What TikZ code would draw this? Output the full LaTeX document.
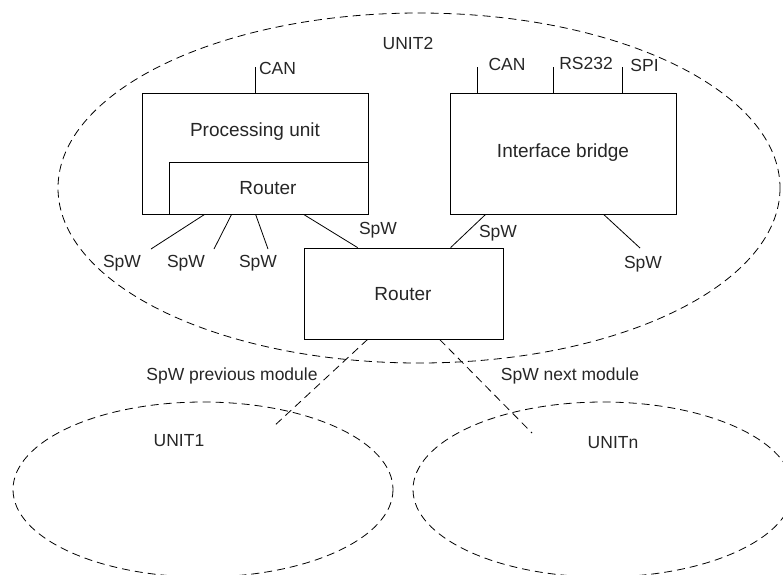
\documentclass[tikz,border=0pt]{standalone}
\usepackage{fontspec}
\setmainfont{Liberation Sans}
\usetikzlibrary{calc}
\begin{document}
\begin{tikzpicture}[x=1pt,y=-1pt,
  boxnode/.style={draw,line width=0.8pt,rectangle,inner sep=0pt},
  boxtext/.style={font=\fontsize{19}{22}\selectfont,text=black!85,inner sep=0pt},
  lbl/.style={font=\fontsize{17.5}{20}\selectfont,text=black!85,inner sep=0pt},
  wire/.style={line width=0.8pt},
  dwire/.style={line width=0.8pt,dash pattern=on 8pt off 5pt},
  unitline/.style={line width=0.8pt,dash pattern=on 8pt off 5pt}]
\useasboundingbox (0,0) rectangle (783,574);
\clip (0,0) rectangle (783,574);
% unit ellipses
\draw[unitline] (419,188) ellipse [x radius=361, y radius=175];
\draw[unitline] (203,489.5) ellipse [x radius=190, y radius=87.5];
\draw[unitline] (603,489.5) ellipse [x radius=190, y radius=87.5];
\node[lbl] (u2) at (408,43) {UNIT2};
\node[lbl] (u1) at (179,441) {UNIT1};
\node[lbl] (un) at (613,443) {UNITn};
% boxes
\node[boxnode,minimum width=226pt,minimum height=121pt] (pu) at (255,153.5) {};
\node[boxtext] (putext) at (255,132) {Processing unit};
\node[boxnode,minimum width=199pt,minimum height=52pt] (pur) at (268.5,188) {};
\node[boxtext] (purtext) at (268,188) {Router};
\node[boxnode,minimum width=226pt,minimum height=121pt] (ib) at (563,153.5) {};
\node[boxtext] (ibtext) at (563,153) {Interface bridge};
\node[boxnode,minimum width=199pt,minimum height=91pt] (rt) at (403.5,293.5) {};
\node[boxtext] (rttext) at (403,294) {Router};
% top connectors
\coordinate (c1) at (255,67);
\coordinate (c2) at (477,67);
\coordinate (c3) at (553,67);
\coordinate (c4) at (622,67);
\draw[wire] (c1) -- (c1 |- pu.north);
\draw[wire] (c2) -- (c2 |- ib.north);
\draw[wire] (c3) -- (c3 |- ib.north);
\draw[wire] (c4) -- (c4 |- ib.north);
\node[lbl] (lcan1) at (277.5,68) {CAN};
\node[lbl] (lcan2) at (507,64) {CAN};
\node[lbl] (lrs) at (586,63) {RS232};
\node[lbl] (lspi) at (644.5,65) {SPI};
% SpW connectors
\coordinate (s1) at (151,249);
\coordinate (s2) at (214,249);
\coordinate (s3) at (268,249);
\coordinate (s6) at (640,248);
\draw[wire] ([xshift=63pt]pu.south west) -- (s1);
\draw[wire] ([xshift=90pt]pu.south west) -- (s2);
\draw[wire] ([xshift=114pt]pu.south west) -- (s3);
\draw[wire] ([xshift=162pt]pu.south west) -- ([xshift=54pt]rt.north west);
\draw[wire] ([xshift=36pt]ib.south west) -- ([xshift=147pt]rt.north west);
\draw[wire] ([xshift=154pt]ib.south west) -- (s6);
\node[lbl] (ls1) at (122,263) {SpW};
\node[lbl] (ls2) at (186,263) {SpW};
\node[lbl] (ls3) at (258,263) {SpW};
\node[lbl] (ls4) at (378,230) {SpW};
\node[lbl] (ls5) at (498,233) {SpW};
\node[lbl] (ls6) at (643,264) {SpW};
% module links
\coordinate (p1) at (273,427);
\coordinate (p2) at (532,433);
\draw[dwire] ([xshift=64pt]rt.south west) -- (p1);
\draw[dwire] ([xshift=136pt]rt.south west) -- (p2);
\node[lbl] (lprev) at (232,376) {SpW previous module};
\node[lbl] (lnext) at (570,376) {SpW next module};
\end{tikzpicture}
\end{document}
